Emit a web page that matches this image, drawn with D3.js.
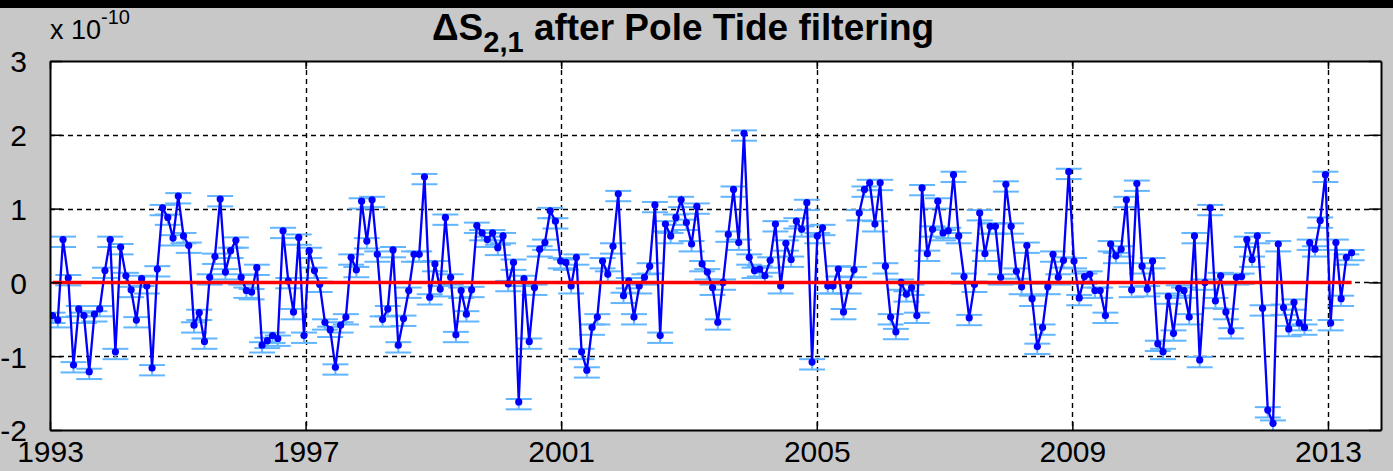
<!DOCTYPE html>
<html>
<head>
<meta charset="utf-8">
<script src="https://cdn.jsdelivr.net/npm/d3@7"></script>
<style>
  html, body { margin: 0; padding: 0; background: #c8c8c8; }
  svg { display: block; }
  text { font-family: "Liberation Sans", Arial, Helvetica, sans-serif; }
</style>
</head>
<body>
<svg id="chart" width="1393" height="471"></svg>
<script>
// Sampling interval of the series (decimal years)
const sampleStart = 1993.04;
const sampleEnd = 2013.37;

// ΔS(2,1) after pole tide filtering, units of 1e-10
const values = [
  -0.45, -0.51, 0.58, 0.06, -1.12, -0.36, -0.45, -1.21, -0.43, -0.36,
  0.16, 0.58, -0.94, 0.48, 0.09, -0.10, -0.51, 0.05, -0.05, -1.16,
  0.18, 1.01, 0.88, 0.60, 1.17, 0.63, 0.50, -0.58, -0.41, -0.80,
  0.07, 0.35, 1.13, 0.14, 0.43, 0.57, 0.07, -0.11, -0.13, 0.20,
  -0.85, -0.79, -0.72, -0.76, 0.70, 0.02, -0.40, 0.61, -0.72, 0.43,
  0.16, -0.03, -0.54, -0.64, -1.15, -0.58, -0.47, 0.34, 0.17, 1.10,
  0.56, 1.12, 0.38, -0.50, -0.36, 0.44, -0.85, -0.49, -0.11, 0.38,
  0.38, 1.43, -0.20, 0.25, -0.09, 0.88, 0.07, -0.71, -0.11, -0.43,
  -0.10, 0.77, 0.67, 0.58, 0.67, 0.47, 0.63, -0.02, 0.27, -1.62,
  0.05, -0.80, -0.07, 0.45, 0.54, 0.97, 0.83, 0.29, 0.27, -0.05,
  0.34, -0.94, -1.19, -0.61, -0.47, 0.29, 0.11, 0.49, 1.20, -0.18,
  0.02, -0.47, -0.05, 0.07, 0.22, 1.05, -0.72, 0.79, 0.63, 0.88,
  1.12, 0.81, 0.52, 1.03, 0.25, 0.14, -0.07, -0.54, 0.00, 0.65,
  1.26, 0.54, 2.02, 0.34, 0.16, 0.18, 0.09, 0.30, 0.79, -0.05,
  0.53, 0.31, 0.83, 0.72, 1.08, -1.08, 0.63, 0.74, -0.05, -0.05,
  0.18, -0.40, -0.05, 0.17, 0.94, 1.26, 1.35, 0.79, 1.35, 0.22,
  -0.47, -0.67, 0.00, -0.16, -0.07, -0.45, 1.28, 0.39, 0.72, 1.10,
  0.67, 0.70, 1.46, 0.63, 0.08, -0.48, -0.03, 0.94, 0.39, 0.76,
  0.76, 0.07, 1.33, 0.76, 0.15, -0.06, 0.50, -0.22, -0.87, -0.61,
  -0.06, 0.38, 0.07, 0.30, 1.50, 0.29, -0.21, 0.08, 0.11, -0.11,
  -0.11, -0.45, 0.52, 0.36, 0.45, 1.12, -0.10, 1.34, 0.22, -0.09,
  0.29, -0.83, -0.94, -0.19, -0.69, -0.08, -0.11, -0.47, 0.63, -1.05,
  0.00, 1.01, -0.25, 0.09, -0.40, -0.66, 0.07, 0.08, 0.58, 0.31,
  0.63, -0.35, -1.73, -1.91, 0.52, -0.34, -0.63, -0.27, -0.55, -0.61,
  0.54, 0.45, 0.84, 1.46, -0.55, 0.54, -0.22, 0.34, 0.40
];

// Formal error of each estimate (same units)
const errUpper = 0.04;
const errLower = 0.10;

const xTickValues = [1993, 1997, 2001, 2005, 2009, 2013];
const yTickValues = [-2, -1, 0, 1, 2, 3];
const xDomain = [1993, 2013.83];
const yDomain = [-2, 3];

const titleMain = "ΔS";
const titleSub = "2,1";
const titleRest = " after Pole Tide filtering";

// ---- layout ----
const W = 1393, H = 471;
const plot = { left: 50, right: 1381, top: 61, bottom: 430 };

const svg = d3.select("#chart");

// figure background and top band
svg.append("rect").attr("width", W).attr("height", H).attr("fill", "#c8c8c8");
svg.append("rect").attr("width", W).attr("height", 8).attr("fill", "#000");

const x = d3.scaleLinear().domain(xDomain).range([plot.left, plot.right]);
const y = d3.scaleLinear().domain(yDomain).range([plot.bottom, plot.top]);

// axes area
svg.append("rect")
  .attr("x", plot.left).attr("y", plot.top)
  .attr("width", plot.right - plot.left).attr("height", plot.bottom - plot.top)
  .attr("fill", "#fff");

svg.append("clipPath").attr("id", "plotclip")
  .append("rect")
  .attr("x", plot.left).attr("y", plot.top)
  .attr("width", plot.right - plot.left).attr("height", plot.bottom - plot.top);

// grid lines
const grid = svg.append("g").attr("stroke", "#000").attr("stroke-width", 1.4)
  .attr("stroke-dasharray", "5,4").attr("fill", "none");
grid.selectAll("line.gx").data(xTickValues.filter(v => v > xDomain[0] && v < xDomain[1]))
  .join("line").attr("class", "gx")
  .attr("x1", d => Math.round(x(d)) + 0.5).attr("x2", d => Math.round(x(d)) + 0.5)
  .attr("y1", plot.top).attr("y2", plot.bottom);
grid.selectAll("line.gy").data(yTickValues.filter(v => v > yDomain[0] && v < yDomain[1]))
  .join("line").attr("class", "gy")
  .attr("y1", d => Math.round(y(d)) + 0.5).attr("y2", d => Math.round(y(d)) + 0.5)
  .attr("x1", plot.left).attr("x2", plot.right);

// series
const times = d3.range(values.length).map(i => sampleStart + i * (sampleEnd - sampleStart) / (values.length - 1));
const data = values.map((v, i) => ({ t: times[i], v }));
const capHalf = (times[times.length - 1] - times[0]) / 100;

const series = svg.append("g").attr("clip-path", "url(#plotclip)");

// error bars
const eb = series.append("g").attr("stroke", "#62b5ff").attr("stroke-width", 2).attr("fill", "none");
eb.selectAll("line.cu").data(data).join("line").attr("class", "cu")
  .attr("x1", d => x(d.t - capHalf)).attr("x2", d => x(d.t + capHalf))
  .attr("y1", d => y(d.v + errUpper)).attr("y2", d => y(d.v + errUpper));
eb.selectAll("line.cl").data(data).join("line").attr("class", "cl")
  .attr("x1", d => x(d.t - capHalf)).attr("x2", d => x(d.t + capHalf))
  .attr("y1", d => y(d.v - errLower)).attr("y2", d => y(d.v - errLower));
eb.selectAll("line.cv").data(data).join("line").attr("class", "cv")
  .attr("x1", d => x(d.t)).attr("x2", d => x(d.t))
  .attr("y1", d => y(d.v + errUpper)).attr("y2", d => y(d.v - errLower));

// connecting line
series.append("path").datum(data)
  .attr("fill", "none").attr("stroke", "#0000ff").attr("stroke-width", 2.3)
  .attr("stroke-linejoin", "miter")
  .attr("d", d3.line().x(d => x(d.t)).y(d => y(d.v)));

// markers
series.append("g").attr("fill", "#0000ff")
  .selectAll("circle").data(data).join("circle")
  .attr("cx", d => x(d.t)).attr("cy", d => y(d.v)).attr("r", 3.6);

// zero reference line across the sampled interval
series.append("line")
  .attr("x1", x(times[0])).attr("x2", x(times[times.length - 1]))
  .attr("y1", y(0)).attr("y2", y(0))
  .attr("stroke", "#ff0000").attr("stroke-width", 3.5);

// axes box and ticks (plain hyphen-minus for negative labels)
const intLabel = d => String(d);
const axG = svg.append("g");
const xAxisB = d3.axisBottom(x).tickValues(xTickValues).tickSizeInner(-8).tickSizeOuter(0).tickFormat(intLabel).tickPadding(11);
const xAxisT = d3.axisTop(x).tickValues(xTickValues).tickSizeInner(-8).tickSizeOuter(0).tickFormat("");
const yAxisL = d3.axisLeft(y).tickValues(yTickValues).tickSizeInner(-12).tickSizeOuter(0).tickFormat(intLabel).tickPadding(23);
const yAxisR = d3.axisRight(y).tickValues(yTickValues).tickSizeInner(-12).tickSizeOuter(0).tickFormat("");

axG.append("g").attr("transform", `translate(0,${plot.bottom})`).call(xAxisB);
axG.append("g").attr("transform", `translate(0,${plot.top})`).call(xAxisT);
const gyl = axG.append("g").attr("transform", `translate(${plot.left},0)`).call(yAxisL);
axG.append("g").attr("transform", `translate(${plot.right},0)`).call(yAxisR);

axG.selectAll(".domain").attr("stroke", "#000").attr("stroke-width", 2);
axG.selectAll(".tick line").attr("stroke", "#000").attr("stroke-width", 1.5);
axG.selectAll(".tick text").attr("fill", "#000").attr("font-size", 30)
  .attr("font-family", "'Liberation Sans', Arial, sans-serif");
gyl.selectAll(".tick text").attr("dy", "0.36em");

// exponent label
const expo = svg.append("text").attr("x", 50).attr("y", 39).attr("font-size", 27).attr("fill", "#000");
expo.append("tspan").text("x 10");
expo.append("tspan").attr("dy", -15).attr("font-size", 20).text("-10");

// title
const title = svg.append("text").attr("x", 432).attr("y", 40)
  .attr("font-size", 37).attr("font-weight", "bold").attr("fill", "#000");
title.append("tspan").text(titleMain);
title.append("tspan").attr("dy", 12).attr("font-size", 29).text(titleSub);
title.append("tspan").attr("dy", -12).text(titleRest);
</script>
</body>
</html>
